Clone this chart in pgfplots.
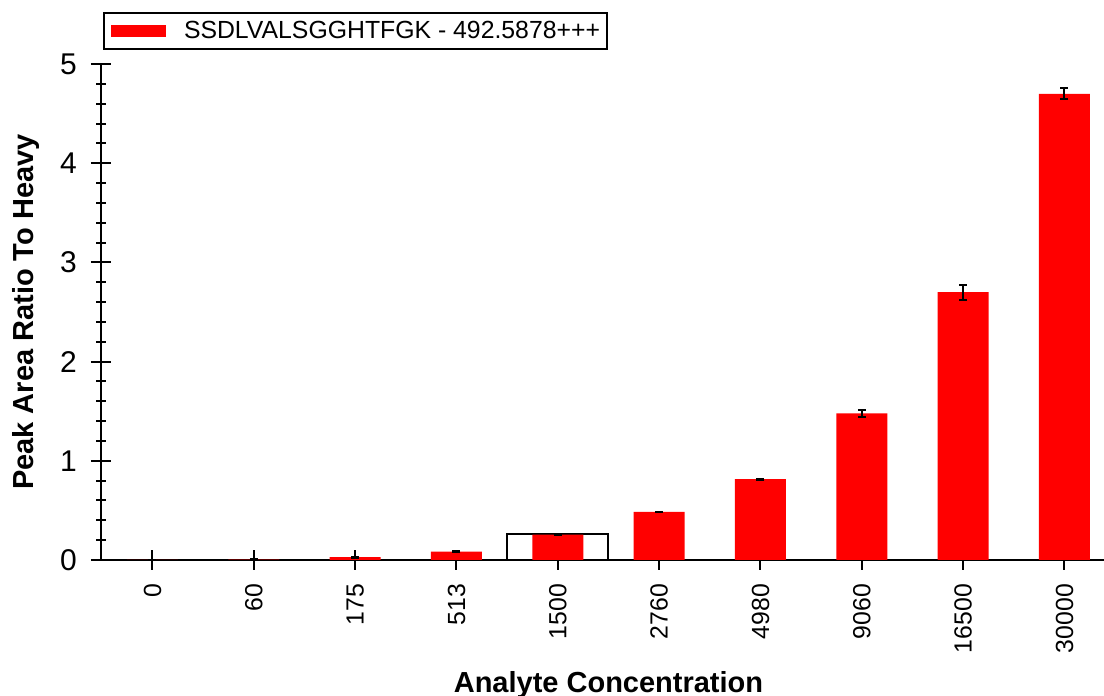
\documentclass[border=0pt]{standalone}
\usepackage{pgfplots}
\pgfplotsset{compat=1.18}
\usepackage{fontspec}
\setmainfont{Liberation Sans}

\begin{document}
\begin{tikzpicture}
\useasboundingbox (-50.5pt,-68pt) rectangle (501.5pt,280pt);
\begin{axis}[
  scale only axis,
  width=501.5pt, height=248pt,
  xmin=-0.508, xmax=9.39,
  ymin=0, ymax=5,
  clip=false,
  axis lines=left,
  axis line style={-, line width=1pt},
  ytick={0,1,2,3,4,5},
  minor y tick num=4,
  xtick={0,...,9},
  xticklabels={0,60,175,513,1500,2760,4980,9060,16500,30000},
  tick align=center,
  major tick length=10pt,
  minor tick length=4.7pt,
  tick style={black, line width=1pt},
  /pgf/number format/assume math mode=true,
  yticklabel style={font=\fontsize{15}{17}\selectfont, xshift=-3.5pt},
  xticklabel style={font=\fontsize{12.4}{14}\selectfont, yshift=-3.5pt, rotate=90, anchor=east},
  xlabel={Analyte Concentration},
  ylabel={Peak Area Ratio To Heavy},
  label style={font=\fontsize{14.5}{17}\selectfont\bfseries},
  xlabel style={at={([xshift=3pt, yshift=-66pt]axis description cs:0.5,0)}, anchor=base},
  ylabel style={at={([xshift=-37.5pt]axis description cs:0,0.5)}, anchor=center},
  legend style={at={(0.002,1.105)}, anchor=north west, draw=black, line width=1pt,
    font=\fontsize{12.4}{14}\selectfont, inner xsep=3.5pt, inner ysep=4pt,
    nodes={inner sep=0pt},
    /tikz/every odd column/.append style={column sep=9pt}},
  legend image code/.code={\fill[red, draw=none] (0pt,-2.9pt) rectangle (27.5pt,3.1pt);},
]
% selection box around 1500
\addplot[black, line width=1pt, mark=none, forget plot]
  coordinates {(3.50,0) (3.50,0.265) (4.494,0.265) (4.494,0)};

\addplot[ybar, bar width=25.5pt, fill=red, draw=none,
  error bars/.cd, y dir=both, y explicit,
  error bar style={black, line width=1pt},
  error mark options={rotate=90, black, line width=1pt, mark size=2pt}]
  table[x=x, y=y, y error=e] {
x y e
0 0 0
1 0.005 0.002
2 0.03 0.005
3 0.084 0.004
4 0.255 0.004
5 0.484 0.004
6 0.815 0.005
7 1.478 0.034
8 2.70 0.075
9 4.70 0.055
};
\addlegendentry{SSDLVALSGGHTFGK - 492.5878+++\hspace{2.5pt}}
\end{axis}
\end{tikzpicture}
\end{document}
